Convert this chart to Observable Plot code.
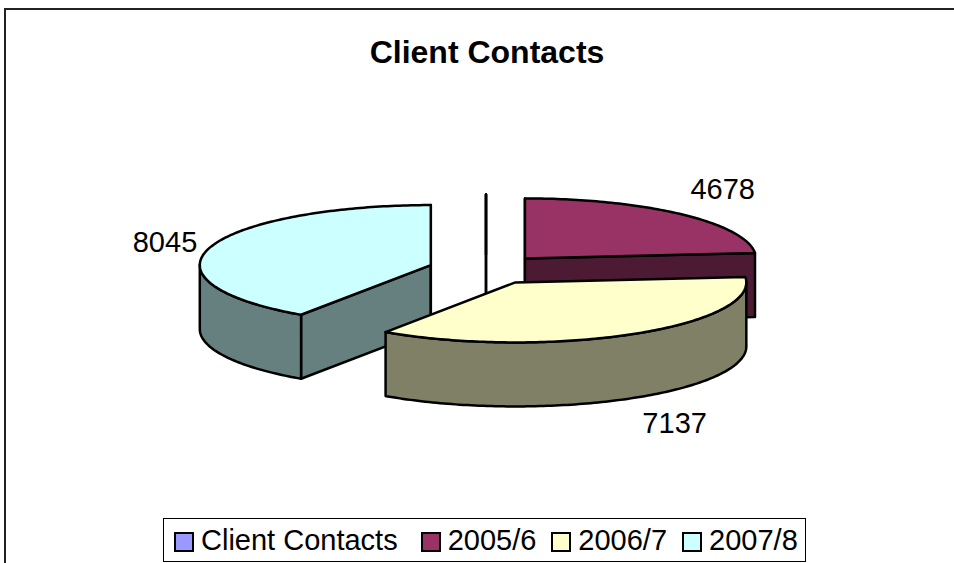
<!DOCTYPE html>
<html>
<head>
<meta charset="utf-8">
<script src="https://cdn.jsdelivr.net/npm/d3@7"></script>
<script src="https://cdn.jsdelivr.net/npm/@observablehq/plot@0.6"></script>
<style>
  html, body { margin: 0; padding: 0; background: #fff; overflow: hidden; }
  body { width: 954px; height: 563px; font-family: "Liberation Sans", Arial, sans-serif; color: #000; }
  #frame { position: absolute; left: 4px; top: 8px; width: 948px; height: 553px; border-left: 2px solid #222; border-top: 2px solid #222; background: #fff; }
  #title { height: 90px; line-height: 84px; text-align: center; font-weight: bold; font-size: 32px; width: 962px; }
  #chart svg { display: block; }
  #legend { position: absolute; left: 157px; top: 508px; width: 631px; height: 42px; border: 1.5px solid #000; display: flex; align-items: center; padding-left: 10px; font-size: 29px; line-height: 42px; box-sizing: content-box; white-space: nowrap; }
  #legend .item { display: flex; flex: none; align-items: center; margin-right: 15px; }
  #legend .item:first-child { margin-right: 23px; }
  #legend .swatch { flex: none; width: 16px; height: 16px; border: 2px solid #000; margin-right: 7px; margin-top: 3px; }
</style>
</head>
<body>
<div id="frame">
  <div id="title"></div>
  <div id="chart"></div>
  <div id="legend"></div>
</div>
<script>
const chartTitle = "Client Contacts";
const categories = ["Client Contacts", "2005/6", "2006/7", "2007/8"];
const values = [0, 4678, 7137, 8045];
const topColors = ["#9999FF", "#993366", "#FFFFCC", "#CCFFFF"];

// Pie geometry in units of the ellipse's radii
const explode = 0.25;
const depth = 64 / 60;
const total = d3.sum(values);
const rad = (deg) => (deg * Math.PI) / 180;

let running = 0;
const slices = categories.map((name, i) => {
  const start = running;
  running += (values[i] / total) * 360;
  const end = running;
  const mid = (start + end) / 2;
  const cx = explode * Math.sin(rad(mid));
  const cy = -explode * Math.cos(rad(mid));
  const c = d3.rgb(topColors[i]);
  const side = d3.rgb(c.r / 2, c.g / 2, c.b / 2).formatHex();
  return { name, value: values[i], start, end, mid, cx, cy, top: topColors[i], side };
});

const rim = (s, a, lift = 0) => ({ x: s.cx + Math.sin(rad(a)), y: s.cy - Math.cos(rad(a)) + lift });
const arc = (from, to) => d3.range(from, to, 1).concat([to]);

// Painter's order: slices towards the back first
const order = d3.sort(slices, (s) => -Math.cos(rad(s.mid)));
const polygons = [];
let id = 0;
function addPolygon(points, fill) {
  const z = id++;
  for (const p of points) polygons.push({ ...p, z, fill });
}
for (const s of order) {
  const centre = { x: s.cx, y: s.cy };
  const centreLow = { x: s.cx, y: s.cy + depth };
  // radial faces: shown if they look towards the viewer, or edge-on
  if (Math.cos(rad(s.start - 90)) < 1e-6)
    addPolygon([centre, rim(s, s.start), rim(s, s.start, depth), centreLow], s.side);
  if (Math.cos(rad(s.end + 90)) < 1e-6)
    addPolygon([centre, rim(s, s.end), rim(s, s.end, depth), centreLow], s.side);
  // outer wall, front half only
  const a0 = Math.max(s.start, 90), a1 = Math.min(s.end, 270);
  if (a1 > a0) {
    const angles = arc(a0, a1);
    addPolygon([...angles.map((a) => rim(s, a)), ...angles.slice().reverse().map((a) => rim(s, a, depth))], s.side);
  }
  // top surface
  addPolygon([centre, ...arc(s.start, s.end).map((a) => rim(s, a))], s.top);
}

// Value labels sit outside the rim at the slice's mid angle
const labels = slices.filter((s) => s.value > 0).map((s) => {
  const cosM = Math.cos(rad(s.mid)), sinM = Math.sin(rad(s.mid));
  const p = rim(s, s.mid, cosM < 0 ? depth : 0);
  const offX = sinM > 0 ? 42 : -45;
  const offY = cosM >= 0 ? 8 - 44 * cosM : -30 * cosM;
  return { x: p.x + offX / 231, y: p.y + offY / 60, text: String(s.value) };
});

const width = 948, height = 400;
const plot = Plot.plot({
  width, height,
  margin: 0,
  axis: null,
  x: { domain: [-1, 1], range: [479.5 - 231, 479.5 + 231] },
  y: { domain: [-1, 1], range: [169 - 60, 169 + 60] },
  color: { type: "identity" },
  style: { background: "transparent", overflow: "visible" },
  marks: [
    Plot.line(polygons, {
      x: "x", y: "y", z: "z", fill: "fill", stroke: "#000",
      strokeWidth: 2.5, curve: "linear-closed", strokeLinejoin: "round"
    }),
    Plot.text(labels, {
      x: "x", y: "y", text: "text", fontSize: 29, fill: "#000",
      fontFamily: "Liberation Sans, Arial, sans-serif"
    })
  ]
});
document.getElementById("chart").append(plot);
document.getElementById("title").textContent = chartTitle;

const legend = document.getElementById("legend");
categories.forEach((name, i) => {
  const item = document.createElement("div");
  item.className = "item";
  const sw = document.createElement("div");
  sw.className = "swatch";
  sw.style.background = topColors[i];
  const t = document.createElement("span");
  t.textContent = name;
  item.append(sw, t);
  legend.append(item);
});
</script>
</body>
</html>
